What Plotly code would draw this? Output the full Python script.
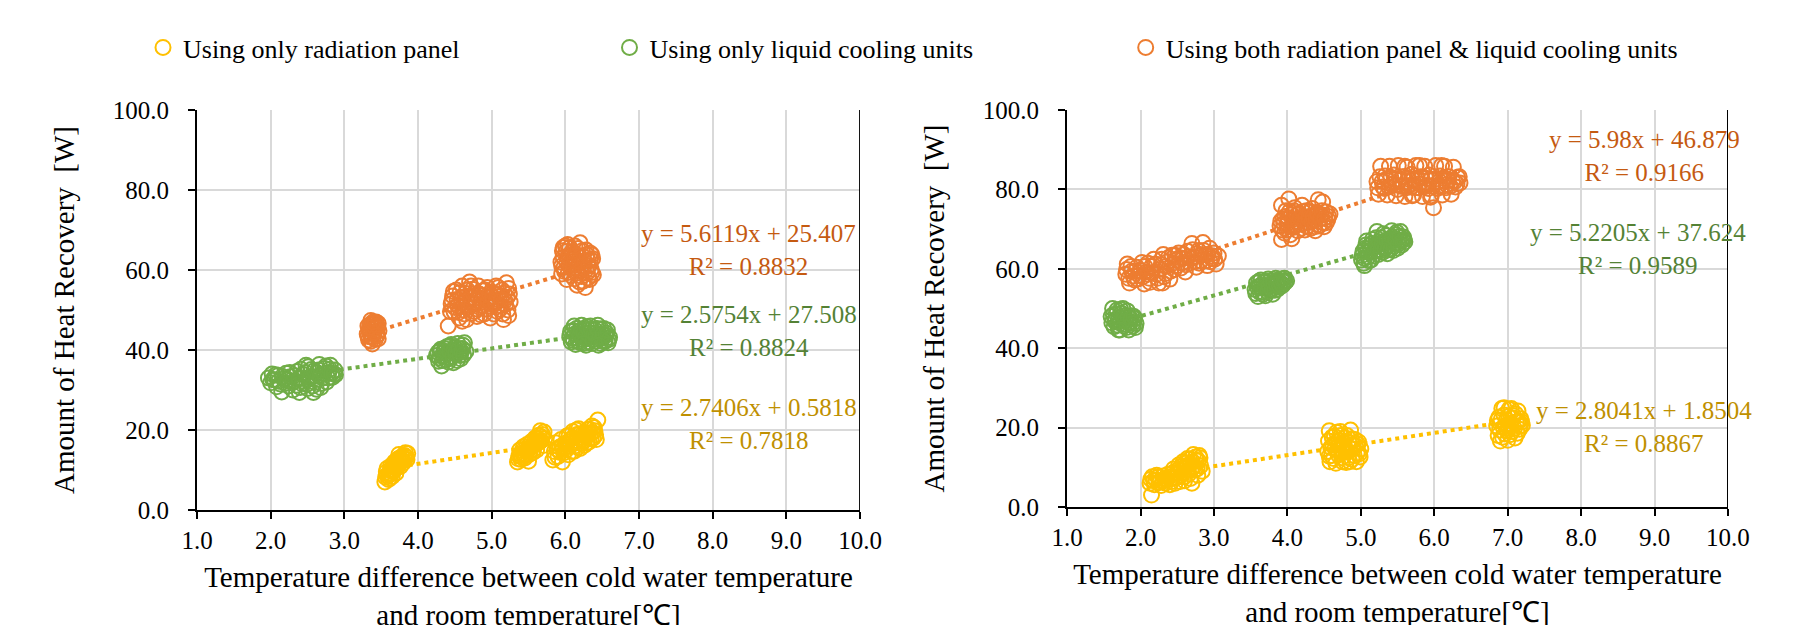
import plotly.graph_objects as go

FONT = "Liberation Serif, Times New Roman, serif"
ORANGE = "#ED7D31"
GREEN = "#70AD47"
YELLOW = "#FFC000"
TXT_ORANGE = "#C55A11"
TXT_GREEN = "#548235"
TXT_YELLOW = "#BF9000"

series_names = [
    "Using only radiation panel",
    "Using only liquid cooling units",
    "Using both radiation panel & liquid cooling units",
]

# ---------------- Left chart data ----------------
rad_left_x = [3.55, 3.56, 3.57, 3.58, 3.60, 3.61, 3.62, 3.63, 3.65, 3.66, 3.67, 3.68, 3.70, 3.71, 3.72, 3.73, 3.74, 3.76, 3.77, 3.78, 3.80, 3.81, 3.83, 3.85, 3.86,
              5.35, 5.37, 5.38, 5.40, 5.42, 5.43, 5.45, 5.47, 5.48, 5.50, 5.51, 5.53, 5.54, 5.56, 5.58, 5.59, 5.61, 5.63, 5.64, 5.66, 5.67, 5.69, 5.70, 5.71, 5.72,
              5.83, 5.85, 5.87, 5.90, 5.92, 5.94, 5.96, 5.98, 6.00, 6.02, 6.04, 6.06, 6.08, 6.10, 6.12, 6.14, 6.16, 6.18, 6.20, 6.22, 6.24, 6.26, 6.28, 6.30, 6.32, 6.34, 6.36, 6.38, 6.40, 6.44, 6.42]
rad_left_y = [7.0, 8.2, 9.5, 10.4, 7.6, 8.8, 9.9, 11.0, 8.4, 9.6, 10.8, 12.0, 9.2, 10.5, 11.6, 12.8, 13.9, 10.9, 12.2, 13.4, 11.8, 12.9, 14.3, 12.6, 14.1,
              12.0, 13.5, 15.0, 12.6, 14.2, 15.8, 13.0, 14.8, 16.4, 12.2, 13.9, 15.5, 17.1, 14.4, 16.2, 18.0, 15.0, 16.9, 18.7, 19.8, 17.4, 18.9, 16.1, 19.5, 17.8,
              12.5, 14.6, 16.8, 13.4, 15.7, 17.6, 12.0, 14.3, 16.4, 18.5, 13.8, 15.9, 17.8, 19.6, 14.7, 16.8, 18.9, 20.3, 15.4, 17.5, 19.2, 16.2, 18.3, 20.1, 17.0, 19.0, 21.0, 18.0, 19.8, 22.5, 17.6]
rad_left_extra = [(3.58, 8.6), (3.60, 9.2), (3.63, 9.0), (3.64, 10.2), (3.66, 11.2), (3.68, 10.0), (3.69, 11.4), (3.71, 12.4), (3.73, 11.0), (3.75, 12.0),
                  (3.76, 13.0), (3.79, 12.4), (3.82, 13.6), (3.84, 13.2), (3.62, 8.0), (3.70, 10.8),
                  (5.36, 12.8), (5.39, 14.0), (5.41, 13.2), (5.44, 15.2), (5.46, 14.0), (5.49, 15.4), (5.52, 14.6), (5.55, 16.0), (5.57, 15.2), (5.60, 16.8),
                  (5.62, 17.8), (5.65, 17.0), (5.68, 18.2), (5.52, 16.6), (5.58, 17.4), (5.44, 13.6),
                  (5.86, 13.2), (5.89, 15.2), (5.93, 14.4), (5.97, 15.4), (6.01, 15.0), (6.03, 17.0), (6.07, 16.6), (6.09, 14.6), (6.11, 18.0), (6.13, 16.0),
                  (6.15, 17.4), (6.17, 15.6), (6.19, 19.0), (6.21, 16.6), (6.23, 18.2), (6.25, 17.2), (6.27, 19.4), (6.29, 16.8), (6.31, 18.8), (6.33, 20.2),
                  (6.35, 17.8), (6.37, 19.4), (6.39, 20.6), (6.41, 18.8), (6.05, 18.6), (5.95, 16.0), (6.15, 20.0)]

liq_left_x = [1.97, 2.00, 2.02, 2.05, 2.08, 2.10, 2.13, 2.15, 2.18, 2.21, 2.24, 2.27, 2.30, 2.33, 2.36, 2.39, 2.42, 2.45, 2.48, 2.50, 2.52, 2.55, 2.58, 2.60, 2.63, 2.66, 2.68, 2.70, 2.73, 2.76, 2.79, 2.81, 2.84, 2.87, 2.88,
              4.25, 4.28, 4.30, 4.32, 4.34, 4.36, 4.38, 4.40, 4.42, 4.44, 4.46, 4.48, 4.50, 4.52, 4.54, 4.56, 4.58, 4.60, 4.63, 4.65,
              6.06, 6.08, 6.10, 6.12, 6.14, 6.16, 6.18, 6.20, 6.22, 6.24, 6.26, 6.28, 6.30, 6.32, 6.34, 6.36, 6.38, 6.40, 6.42, 6.44, 6.46, 6.48, 6.50, 6.52, 6.54, 6.56, 6.58, 6.60]
liq_left_y = [33.0, 31.8, 34.0, 32.5, 30.8, 33.6, 31.5, 29.5, 32.8, 34.2, 31.0, 33.3, 30.0, 32.2, 34.6, 29.4, 31.6, 33.8, 36.2, 30.4, 32.7, 35.1, 29.4, 31.9, 34.3, 36.4, 30.6, 33.0, 35.4, 32.0, 34.4, 36.2, 33.2, 35.0, 33.8,
              38.6, 37.2, 39.8, 36.0, 38.4, 40.4, 37.5, 39.2, 41.0, 38.0, 39.8, 36.8, 40.6, 38.8, 41.6, 39.4, 37.8, 40.4, 41.8, 39.6,
              43.5, 42.0, 44.8, 46.0, 41.4, 43.0, 44.6, 41.8, 46.2, 43.6, 45.2, 41.2, 42.8, 44.4, 46.0, 41.6, 43.4, 45.0, 42.2, 46.2, 44.0, 41.6, 43.0, 45.4, 42.4, 44.2, 41.8, 43.2]
liq_left_extra = [(2.03, 32.6), (2.07, 33.8), (2.11, 32.2), (2.16, 33.4), (2.20, 31.6), (2.23, 32.6), (2.26, 34.4), (2.29, 31.8), (2.32, 33.6), (2.35, 31.2),
                  (2.38, 32.8), (2.41, 35.2), (2.44, 32.2), (2.47, 34.4), (2.49, 31.4), (2.51, 35.8), (2.54, 33.4), (2.57, 31.0), (2.59, 34.8), (2.62, 32.6),
                  (2.65, 35.0), (2.67, 33.6), (2.69, 31.6), (2.72, 34.0), (2.75, 36.0), (2.78, 33.0), (2.80, 35.2), (2.83, 34.2), (2.86, 34.0), (2.40, 30.6), (2.62, 30.2),
                  (4.27, 39.4), (4.29, 38.0), (4.31, 40.2), (4.33, 37.4), (4.35, 39.4), (4.37, 38.6), (4.39, 40.8), (4.41, 37.0), (4.43, 39.6), (4.45, 41.4),
                  (4.47, 38.4), (4.49, 40.0), (4.51, 39.2), (4.53, 37.4), (4.55, 40.4), (4.57, 38.6), (4.59, 39.6), (4.61, 41.2), (4.62, 38.8),
                  (6.07, 44.6), (6.09, 43.0), (6.11, 42.4), (6.13, 44.0), (6.15, 45.4), (6.17, 42.2), (6.19, 43.8), (6.21, 45.0), (6.23, 42.6), (6.25, 44.2),
                  (6.27, 43.2), (6.29, 45.8), (6.31, 42.0), (6.33, 43.6), (6.35, 45.2), (6.37, 42.6), (6.39, 44.2), (6.41, 43.4), (6.43, 45.4), (6.45, 42.6),
                  (6.47, 43.4), (6.49, 45.2), (6.51, 44.0), (6.53, 42.0), (6.55, 43.6), (6.57, 45.0), (6.59, 42.6), (6.25, 41.6), (6.45, 41.2)]

both_left_x = [3.31, 3.32, 3.33, 3.35, 3.36, 3.37, 3.38, 3.40, 3.41, 3.42, 3.43, 3.44, 3.45, 3.46, 3.47,
               4.41, 4.45, 4.47, 4.49, 4.52, 4.54, 4.56, 4.58, 4.60, 4.62, 4.64, 4.66, 4.68, 4.70, 4.72, 4.74, 4.76, 4.78, 4.80, 4.82, 4.84, 4.86, 4.88,
               4.90, 4.92, 4.94, 4.96, 4.98, 5.00, 5.02, 5.04, 5.06, 5.08, 5.10, 5.12, 5.14, 5.16, 5.18, 5.20, 5.22, 5.24, 5.25,
               5.94, 5.95, 5.96, 5.98, 6.00, 6.02, 6.03, 6.05, 6.06, 6.08, 6.10, 6.12, 6.14, 6.16, 6.18, 6.20, 6.22, 6.24, 6.25, 6.27, 6.28, 6.30, 6.31, 6.33, 6.34, 6.35, 6.37, 6.38]
both_left_y = [44.0, 46.0, 42.5, 45.2, 47.4, 43.4, 41.5, 46.4, 44.6, 42.6, 47.0, 45.6, 43.8, 46.6, 44.8,
               46.0, 51.5, 53.5, 49.5, 55.0, 51.0, 48.0, 53.0, 56.0, 50.0, 54.2, 47.6, 52.0, 57.0, 49.2, 55.2, 51.4, 53.6, 48.4, 56.0, 50.6, 52.8, 54.8,
               49.0, 51.8, 55.6, 53.0, 48.0, 50.8, 54.4, 52.2, 56.0, 49.6, 53.4, 51.0, 55.0, 47.6, 52.4, 56.8, 50.0, 54.0, 52.0,
               62.0, 59.0, 64.8, 60.6, 66.0, 57.6, 63.2, 61.0, 65.6, 58.6, 62.6, 60.0, 64.0, 56.2, 61.6, 66.8, 58.4, 63.4, 60.8, 55.6, 65.0, 59.4, 62.4, 57.6, 64.2, 60.2, 62.8, 58.8]
both_left_extra = [(3.32, 43.4), (3.34, 44.4), (3.35, 46.4), (3.36, 42.2), (3.38, 45.0), (3.39, 43.2), (3.40, 44.4), (3.41, 46.8), (3.42, 45.4), (3.44, 43.6),
                   (3.45, 46.0), (3.46, 42.8), (3.34, 45.6), (3.39, 47.0),
                   (4.44, 49.6), (4.46, 52.4), (4.48, 54.6), (4.50, 50.6), (4.53, 52.6), (4.55, 49.4), (4.57, 54.4), (4.59, 51.6), (4.61, 53.2), (4.63, 49.0),
                   (4.65, 51.2), (4.67, 55.0), (4.69, 50.8), (4.71, 53.0), (4.73, 51.6), (4.75, 54.0), (4.77, 49.6), (4.79, 52.4), (4.81, 50.2), (4.83, 54.0),
                   (4.85, 48.8), (4.87, 51.2), (4.89, 53.6), (4.91, 55.0), (4.93, 50.2), (4.95, 52.4), (4.97, 54.2), (4.99, 51.6), (5.01, 53.4), (5.03, 49.0),
                   (5.05, 51.6), (5.07, 53.8), (5.09, 55.6), (5.11, 50.2), (5.13, 52.6), (5.15, 49.0), (5.17, 54.2), (5.19, 51.4), (5.21, 53.2), (5.23, 55.4),
                   (5.23, 48.6), (4.72, 56.0), (4.60, 47.2),
                   (5.95, 61.0), (5.97, 63.2), (5.99, 59.6), (6.01, 64.6), (6.02, 61.8), (6.04, 59.4), (6.05, 63.6), (6.07, 60.6), (6.09, 64.6), (6.11, 61.4),
                   (6.12, 57.8), (6.13, 63.0), (6.15, 59.2), (6.17, 65.4), (6.19, 62.2), (6.21, 60.0), (6.23, 64.8), (6.24, 57.2), (6.26, 62.2), (6.28, 60.0),
                   (6.29, 63.8), (6.31, 58.0), (6.32, 61.0), (6.34, 62.6), (6.36, 59.4), (6.36, 63.8), (6.03, 66.4), (6.19, 57.0), (6.13, 66.0), (5.97, 65.6)]

# ---------------- Right chart data ----------------
rad_right_x = [2.15, 2.13, 2.16, 2.19, 2.22, 2.25, 2.28, 2.31, 2.34, 2.37, 2.40, 2.43, 2.45, 2.47, 2.50, 2.52, 2.54, 2.56, 2.58, 2.60, 2.62, 2.64, 2.66, 2.68, 2.70, 2.72, 2.74, 2.76, 2.78, 2.80, 2.82, 2.84,
               4.55, 4.56, 4.57, 4.58, 4.60, 4.62, 4.64, 4.66, 4.68, 4.70, 4.72, 4.74, 4.76, 4.78, 4.80, 4.82, 4.84, 4.86, 4.88, 4.90, 4.92, 4.94, 4.96, 4.98, 5.00,
               6.85, 6.87, 6.88, 6.90, 6.92, 6.94, 6.96, 6.98, 7.00, 7.02, 7.04, 7.06, 7.08, 7.10, 7.12, 7.14, 7.16, 7.18, 7.20]
rad_right_y = [3.0, 6.0, 7.6, 5.6, 8.0, 6.2, 5.4, 7.8, 6.0, 8.2, 5.6, 7.2, 9.6, 6.0, 8.6, 10.6, 6.4, 9.2, 11.4, 7.6, 10.0, 12.2, 8.4, 10.8, 6.0, 13.2, 9.4, 11.8, 8.0, 13.0, 10.4, 9.0,
               14.0, 16.6, 19.2, 11.4, 13.0, 15.6, 17.8, 11.0, 14.4, 16.8, 19.0, 12.4, 15.2, 17.4, 11.2, 13.8, 16.2, 19.4, 12.0, 14.6, 17.0, 11.4, 15.8, 13.4, 14.6,
               20.4, 18.0, 22.6, 16.6, 24.8, 20.0, 18.4, 22.0, 16.8, 24.6, 21.0, 19.0, 23.0, 17.4, 21.4, 24.2, 19.6, 22.2, 20.6]
rad_right_extra = [(2.14, 7.0), (2.18, 6.6), (2.21, 6.8), (2.24, 7.6), (2.27, 6.6), (2.30, 6.4), (2.33, 7.2), (2.36, 6.8), (2.39, 7.6), (2.42, 6.4),
                   (2.44, 8.6), (2.48, 7.4), (2.51, 9.4), (2.53, 7.6), (2.55, 10.2), (2.57, 8.4), (2.59, 9.8), (2.61, 11.0), (2.63, 8.8), (2.65, 10.6),
                   (2.67, 12.0), (2.69, 9.4), (2.71, 11.4), (2.73, 10.2), (2.75, 12.6), (2.77, 9.6), (2.79, 11.6), (2.81, 12.4), (2.60, 6.6), (2.68, 7.2),
                   (4.57, 12.8), (4.59, 15.0), (4.61, 17.6), (4.63, 12.2), (4.65, 14.8), (4.67, 16.4), (4.69, 13.2), (4.71, 15.8), (4.73, 18.0), (4.75, 13.8),
                   (4.77, 16.0), (4.79, 14.4), (4.81, 18.0), (4.83, 12.4), (4.85, 14.8), (4.87, 17.2), (4.89, 15.6), (4.91, 13.0), (4.93, 15.4), (4.95, 13.6),
                   (4.97, 16.4), (4.99, 12.6), (4.75, 11.4), (4.85, 11.4), (4.67, 18.8),
                   (6.86, 21.8), (6.89, 19.4), (6.91, 22.0), (6.93, 17.6), (6.95, 23.2), (6.97, 20.6), (6.99, 19.2), (7.01, 22.8), (7.03, 18.2), (7.05, 20.2),
                   (7.07, 22.4), (7.09, 19.8), (7.11, 23.4), (7.13, 18.6), (7.15, 21.6), (7.17, 20.4), (7.19, 21.4), (6.95, 25.0), (7.05, 24.8)]

liq_right_x = [1.60, 1.62, 1.64, 1.66, 1.68, 1.70, 1.72, 1.74, 1.76, 1.78, 1.80, 1.82, 1.84, 1.86, 1.88, 1.90, 1.92, 1.94,
               3.56, 3.58, 3.60, 3.62, 3.64, 3.66, 3.68, 3.70, 3.72, 3.74, 3.76, 3.78, 3.80, 3.82, 3.84, 3.86, 3.88, 3.90, 3.92, 3.94, 3.96, 3.99,
               5.02, 5.04, 5.06, 5.08, 5.10, 5.12, 5.14, 5.16, 5.18, 5.20, 5.22, 5.24, 5.26, 5.28, 5.30, 5.32, 5.34, 5.36, 5.38, 5.40, 5.42, 5.44, 5.46, 5.48, 5.50, 5.52, 5.54, 5.56, 5.58, 5.60]
liq_right_y = [48.0, 50.0, 45.4, 47.2, 49.6, 44.6, 46.8, 48.8, 50.0, 45.6, 47.6, 49.4, 44.6, 46.4, 48.2, 45.6, 47.4, 46.2,
               54.8, 56.4, 53.0, 55.6, 57.2, 54.2, 56.6, 53.2, 55.2, 57.4, 54.6, 56.2, 53.6, 55.8, 57.6, 54.8, 56.8, 55.4, 57.4, 56.0, 57.6, 57.0,
               63.4, 61.4, 65.2, 67.0, 63.0, 65.8, 62.2, 67.4, 64.4, 66.2, 69.4, 63.6, 65.6, 67.8, 64.2, 66.6, 68.4, 63.8, 65.8, 67.6, 69.6, 64.6, 66.4, 68.6, 65.2, 67.2, 69.4, 66.0, 68.0, 66.8]
liq_right_extra = [(1.61, 46.4), (1.63, 48.4), (1.65, 46.8), (1.67, 48.6), (1.69, 45.8), (1.71, 47.8), (1.73, 49.8), (1.75, 46.0), (1.77, 48.2), (1.79, 46.8),
                   (1.81, 45.2), (1.83, 48.0), (1.85, 46.6), (1.87, 47.4), (1.89, 46.2), (1.91, 48.0), (1.93, 45.2), (1.72, 44.6),
                   (3.57, 53.8), (3.59, 55.4), (3.61, 56.8), (3.63, 54.0), (3.65, 55.8), (3.67, 53.6), (3.69, 55.2), (3.71, 56.8), (3.73, 54.2), (3.75, 55.8),
                   (3.77, 57.0), (3.79, 54.8), (3.81, 56.6), (3.83, 54.6), (3.85, 56.0), (3.87, 57.2), (3.89, 55.6), (3.91, 56.4), (3.93, 55.8), (3.95, 56.8), (3.97, 56.6),
                   (5.01, 62.2), (5.03, 64.4), (5.05, 62.6), (5.07, 66.0), (5.09, 64.2), (5.11, 62.0), (5.13, 64.6), (5.15, 66.4), (5.17, 63.2), (5.19, 65.4),
                   (5.21, 67.8), (5.23, 64.6), (5.25, 66.8), (5.27, 64.6), (5.29, 66.4), (5.31, 68.8), (5.33, 65.2), (5.35, 67.0), (5.37, 64.8), (5.39, 66.8),
                   (5.41, 65.0), (5.43, 68.0), (5.45, 65.6), (5.47, 67.4), (5.49, 69.2), (5.51, 66.2), (5.53, 68.2), (5.55, 67.0), (5.57, 67.2), (5.59, 67.4), (5.05, 60.8)]

both_right_x = [1.80, 1.82, 1.85, 1.88, 1.92, 1.95, 1.98, 2.02, 2.05, 2.08, 2.12, 2.15, 2.18, 2.22, 2.25, 2.28, 2.31, 2.34, 2.37, 2.40, 2.43, 2.46, 2.49, 2.52, 2.55,
                2.58, 2.61, 2.64, 2.67, 2.70, 2.73, 2.76, 2.79, 2.82, 2.85, 2.88, 2.91, 2.94, 2.97, 3.00, 3.03, 3.06,
                3.90, 3.92, 3.94, 3.96, 3.98, 4.00, 4.02, 4.04, 4.06, 4.08, 4.10, 4.12, 4.14, 4.16, 4.18, 4.20, 4.22, 4.24, 4.26, 4.28, 4.30, 4.32, 4.34,
                4.36, 4.38, 4.40, 4.42, 4.44, 4.46, 4.48, 4.50, 4.52, 4.55, 4.58,
                5.22, 5.24, 5.27, 5.30, 5.33, 5.36, 5.39, 5.42, 5.45, 5.48, 5.51, 5.54, 5.57, 5.60, 5.63, 5.66, 5.69, 5.72, 5.75, 5.78, 5.81, 5.84,
                5.87, 5.90, 5.93, 5.96, 5.99, 6.02, 6.05, 6.08, 6.11, 6.14, 6.17, 6.20, 6.23, 6.26, 6.29, 6.32, 6.35]
both_right_y = [58.6, 61.2, 56.4, 59.4, 57.2, 60.4, 58.4, 61.6, 56.2, 59.2, 57.6, 60.6, 62.4, 58.6, 56.4, 61.0, 63.6, 58.8, 61.8, 57.4, 63.4, 59.8, 62.2, 64.0, 60.2,
                62.6, 59.2, 64.4, 61.4, 66.4, 63.0, 60.4, 64.6, 62.0, 66.6, 63.6, 60.8, 65.2, 62.6, 64.0, 61.2, 63.2,
                70.8, 67.4, 72.6, 69.0, 74.6, 71.4, 77.6, 68.6, 73.6, 70.4, 75.4, 72.0, 69.6, 74.0, 71.2, 76.0, 72.8, 69.8, 74.6, 71.6, 73.2, 70.2, 75.2,
                72.4, 69.6, 74.2, 77.4, 71.0, 73.6, 76.8, 70.6, 74.4, 72.4, 73.8,
                82.0, 78.8, 85.8, 80.6, 83.4, 78.6, 85.8, 81.2, 83.6, 78.4, 86.0, 80.8, 83.2, 78.2, 85.6, 81.0, 83.8, 78.6, 86.0, 80.4, 83.2, 78.2,
                85.8, 81.0, 83.6, 78.4, 75.4, 86.0, 80.8, 83.4, 78.6, 85.8, 81.2, 83.2, 78.8, 85.6, 80.6, 83.0, 81.6]
both_right_extra = [(1.81, 59.8), (1.84, 57.6), (1.87, 60.6), (1.90, 58.2), (1.93, 59.4), (1.96, 57.4), (2.00, 59.6), (2.03, 58.0), (2.06, 60.6), (2.10, 58.6),
                    (2.13, 56.6), (2.16, 59.0), (2.20, 61.2), (2.23, 57.6), (2.26, 59.8), (2.29, 62.4), (2.32, 58.0), (2.35, 60.6), (2.38, 62.8), (2.41, 59.4),
                    (2.44, 61.4), (2.47, 63.4), (2.50, 60.8), (2.53, 62.8), (2.56, 61.4), (2.59, 63.6), (2.62, 61.0), (2.65, 63.0), (2.68, 62.6), (2.71, 64.8),
                    (2.74, 61.8), (2.77, 63.8), (2.80, 61.4), (2.83, 63.4), (2.86, 64.6), (2.89, 62.0), (2.92, 63.6), (2.95, 61.8), (2.98, 63.2), (3.01, 62.4),
                    (2.30, 56.4), (2.10, 61.4),
                    (3.91, 72.0), (3.93, 69.8), (3.95, 71.4), (3.97, 73.2), (3.99, 69.8), (4.01, 72.8), (4.03, 74.4), (4.05, 70.6), (4.07, 72.4), (4.09, 74.6),
                    (4.11, 71.0), (4.13, 73.6), (4.15, 71.8), (4.17, 72.8), (4.19, 70.2), (4.21, 74.4), (4.23, 71.4), (4.25, 73.0), (4.27, 70.6), (4.29, 72.6),
                    (4.31, 74.4), (4.33, 71.8), (4.35, 73.2), (4.37, 70.6), (4.39, 72.4), (4.41, 73.8), (4.43, 70.8), (4.45, 72.6), (4.47, 74.6), (4.49, 71.6),
                    (4.51, 72.8), (4.53, 71.6), (4.56, 73.2), (3.92, 76.0), (4.06, 67.6),
                    (5.23, 80.4), (5.26, 83.2), (5.29, 82.0), (5.32, 80.2), (5.35, 82.6), (5.38, 80.6), (5.41, 83.0), (5.44, 81.4), (5.47, 82.6), (5.50, 80.0),
                    (5.53, 82.4), (5.56, 81.0), (5.59, 83.2), (5.62, 80.4), (5.65, 82.6), (5.68, 80.6), (5.71, 82.4), (5.74, 80.4), (5.77, 82.6), (5.80, 81.4),
                    (5.83, 83.0), (5.86, 80.6), (5.89, 82.8), (5.92, 80.2), (5.95, 82.4), (5.98, 80.8), (6.01, 82.6), (6.04, 80.2), (6.07, 82.0), (6.10, 80.6),
                    (6.13, 82.8), (6.16, 80.4), (6.19, 82.4), (6.22, 80.8), (6.25, 82.2), (6.28, 82.0), (6.31, 81.4), (6.34, 83.2), (5.60, 85.8), (5.80, 86.0),
                    (6.10, 86.0), (5.70, 78.4), (5.95, 78.0)]

# Trendline equations (as printed on the chart): radiation, liquid, both
left_slopes = [2.7406, 2.5754, 5.6119]
left_intercepts = [0.5818, 27.508, 25.407]
left_r2 = ["0.7818", "0.8824", "0.8832"]
right_slopes = [2.8041, 5.2205, 5.98]
right_intercepts = [1.8504, 37.624, 46.879]
right_r2 = ["0.8867", "0.9589", "0.9166"]

x_ticks = [1, 2, 3, 4, 5, 6, 7, 8, 9, 10]
y_ticks = [0, 20, 40, 60, 80, 100]

colors = [YELLOW, GREEN, ORANGE]
text_colors = [TXT_YELLOW, TXT_GREEN, TXT_ORANGE]
legend_ids = ["legend", "legend2", "legend3"]


def merge(xs, ys, extra):
    return list(xs) + [p[0] for p in extra], list(ys) + [p[1] for p in extra]


left_sets = [merge(rad_left_x, rad_left_y, rad_left_extra),
             merge(liq_left_x, liq_left_y, liq_left_extra),
             merge(both_left_x, both_left_y, both_left_extra)]
right_sets = [merge(rad_right_x, rad_right_y, rad_right_extra),
              merge(liq_right_x, liq_right_y, liq_right_extra),
              merge(both_right_x, both_right_y, both_right_extra)]

fig = go.Figure()


def fmt_eq(m, b):
    return f"y = {m:g}x + {b:g}"


for panel, (sets, slopes, inters, xa, ya) in enumerate([
        (left_sets, left_slopes, left_intercepts, "x", "y"),
        (right_sets, right_slopes, right_intercepts, "x2", "y2")]):
    for i, (xs, ys) in enumerate(sets):
        x0, x1 = min(xs), max(xs)
        fig.add_trace(go.Scatter(
            x=[x0, x1], y=[slopes[i] * x0 + inters[i], slopes[i] * x1 + inters[i]],
            mode="lines", line=dict(color=colors[i], width=4, dash="dot"),
            showlegend=False, hoverinfo="skip", xaxis=xa, yaxis=ya))
    for i, (xs, ys) in enumerate(sets):
        fig.add_trace(go.Scatter(
            x=xs, y=ys, mode="markers", name=series_names[i],
            marker=dict(symbol="circle-open", size=15, color=colors[i], line=dict(width=2)),
            legendgroup=series_names[i], legend=legend_ids[i],
            showlegend=(panel == 0), xaxis=xa, yaxis=ya))

left_ann_x = [8.49, 8.49, 8.49]
left_ann_y = [21.4, 44.75, 65.0]
right_ann_x = [8.85, 8.78, 8.86]
right_ann_y = [20.05, 64.9, 88.4]
annotations = []
for i in range(3):
    annotations.append(dict(
        x=left_ann_x[i], y=left_ann_y[i], xref="x", yref="y",
        text=fmt_eq(left_slopes[i], left_intercepts[i]) + "<br>R² = " + left_r2[i],
        showarrow=False, align="center", xanchor="center", yanchor="middle",
        font=dict(family=FONT, size=25, color=text_colors[i])))
    annotations.append(dict(
        x=right_ann_x[i], y=right_ann_y[i], xref="x2", yref="y2",
        text=fmt_eq(right_slopes[i], right_intercepts[i]) + "<br>R² = " + right_r2[i],
        showarrow=False, align="center", xanchor="center", yanchor="middle",
        font=dict(family=FONT, size=25, color=text_colors[i])))

xtitle = "Temperature difference between cold water temperature<br>and room temperature[℃]"
ytitle = "Amount of Heat Recovery \u00a0[W]"

axis_common = dict(
    showline=True, linecolor="black", linewidth=2,
    ticks="outside", ticklen=7, tickwidth=2, tickcolor="black",
    showgrid=True, gridcolor="#D9D9D9", gridwidth=1.5,
    zeroline=False, tickfont=dict(family=FONT, size=25, color="black"),
    automargin=False,
)

xaxis_cfg = dict(axis_common, range=[1, 10], tickvals=x_ticks, tickformat=".1f",
                 title=dict(text=xtitle, font=dict(family=FONT, size=29, color="black"), standoff=14))
yaxis_cfg = dict(axis_common, range=[0, 100], tickvals=y_ticks, tickformat=".1f",
                 ticklabelstandoff=14)

fig.update_layout(
    width=1799, height=625,
    margin=dict(l=189, r=79, t=102, b=123),
    paper_bgcolor="white", plot_bgcolor="white",
    font=dict(family=FONT, color="black"),
    xaxis=dict(xaxis_cfg, domain=[0, 0.4331], anchor="y"),
    yaxis=dict(yaxis_cfg, domain=[0, 1], anchor="x",
               title=dict(text=ytitle, font=dict(family=FONT, size=29, color="black"), standoff=30)),
    xaxis2=dict(xaxis_cfg, domain=[0.5683, 1], anchor="y2"),
    yaxis2=dict(yaxis_cfg, domain=[0.0075, 1], anchor="x2",
                title=dict(text=ytitle, font=dict(family=FONT, size=29, color="black"), standoff=30)),
    annotations=annotations,
    shapes=[
        dict(type="line", xref="x", yref="y domain", x0=10, x1=10, y0=0, y1=1,
             line=dict(color="black", width=2)),
        dict(type="line", xref="x2", yref="y2 domain", x0=10, x1=10, y0=0, y1=1,
             line=dict(color="black", width=2)),
    ],
)

legend_x = [135 / 1799, 601.5 / 1799, 1117.7 / 1799]
for i, lid in enumerate(legend_ids):
    fig.update_layout({lid: dict(
        xref="container", yref="container", x=legend_x[i], y=1 - 39.5 / 625,
        xanchor="left", yanchor="middle", orientation="h",
        font=dict(family=FONT, size=26, color="black"),
        bgcolor="rgba(0,0,0,0)", itemwidth=30)})

fig.write_html("out.html")
